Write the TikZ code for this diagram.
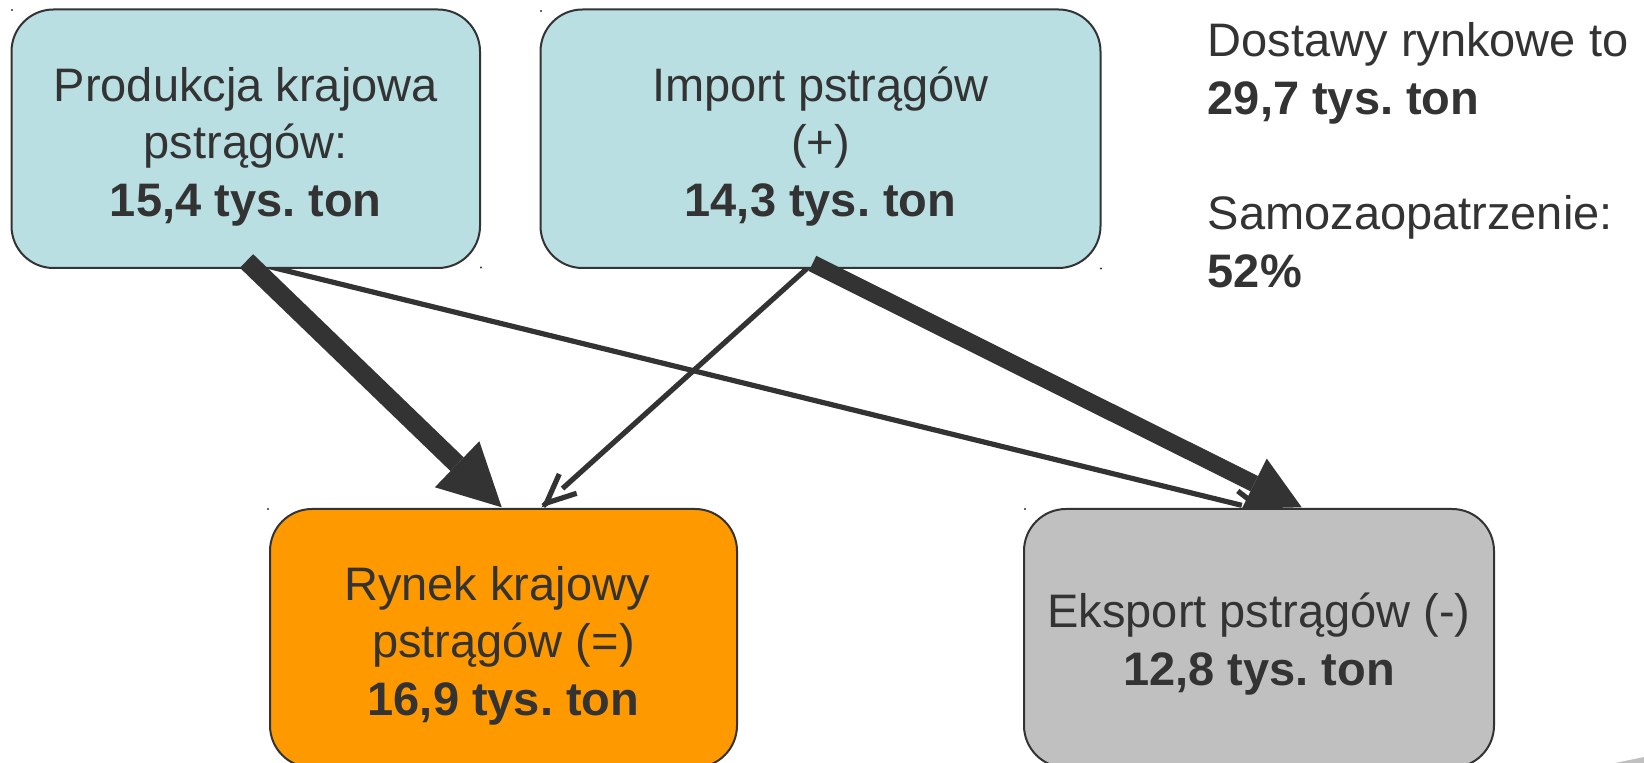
\documentclass[tikz,border=0pt]{standalone}
\usepackage{fontspec}
\setmainfont{Liberation Sans}
\usetikzlibrary{arrows.meta,calc}
\definecolor{txt}{HTML}{333333}
\definecolor{edgec}{HTML}{333333}
\definecolor{bluefill}{RGB}{186,223,227}
\definecolor{orangefill}{HTML}{FF9900}
\definecolor{grayfill}{HTML}{C0C0C0}
\pgfdeclarelayer{bg}
\pgfsetlayers{bg,main}
\frenchspacing
\begin{document}
\frenchspacing
\begin{tikzpicture}[x=0.5pt,y=-0.5pt,
  box/.style={draw=edgec, line width=1pt, rounded corners=21pt, inner sep=0pt, minimum height=129.25pt},
  lbl/.style={text=txt, align=center, inner sep=0pt, font=\fontsize{23.5}{28.75}\selectfont},
  side/.style={text=txt, align=left, inner sep=0pt, anchor=west, font=\fontsize{23.5}{29.25}\selectfont},
  thinline/.style={draw=edgec, line width=2.6pt, line cap=butt},
  thinhead/.style={thinline, -{Straight Barb[length=14.5pt,width=13pt]}},
  thickA/.style={draw=edgec, line width=9.5pt, line cap=butt, -{Triangle[length=31pt,width=32pt,line width=0pt]}},
  thickB/.style={draw=edgec, line width=8.5pt, line cap=butt, -{Triangle[length=26.5pt,width=28pt,line width=0pt]}},
  handle/.style={fill=edgec}
]
\useasboundingbox (0,0) rectangle (1644,763);
\clip (0,0) rectangle (1644,763);

% boxes
\node[box, fill=bluefill, minimum width=234.25pt] (prod) at (245.75,138.75) {};
\node[box, fill=bluefill, minimum width=280pt] (import) at (820.5,138.75) {};
\node[box, fill=orangefill, minimum width=233.5pt] (rynek) at (503.5,638.25) {};
\node[box, fill=grayfill, minimum width=235pt] (eksport) at (1259,638.25) {};

% labels
\node[lbl] (prodt) at (245.75,146.5) {Produkcja krajowa\\pstrągów:\\\textbf{15,4 tys. ton}};
\node[lbl] (importt) at (820.5,146.5) {Import pstrągów\\(+)\\\textbf{14,3 tys. ton}};
\node[lbl] (rynekt) at (503.5,645.6) {Rynek krajowy\hspace*{6.5pt}\\pstrągów (=)\\\textbf{16,9 tys. ton}};
\node[lbl] (eksportt) at (1259,644.1) {Eksport pstrągów (-)\\\textbf{12,8 tys. ton}};
\node[side] (summary) at (1207.4,155) {Dostawy rynkowe to\\\textbf{29,7 tys. ton}\\[28pt]Samozaopatrzenie:\\\textbf{52\%}};

% connector ends
\coordinate (ps) at ($(prod.south)+(0.75,-8)$);
\coordinate (is) at ($(import.south)+(-8,-5.5)$);
\coordinate (rn) at ($(rynek.north)+(-1.8,-0.7)$);
\coordinate (rt) at ($(rynek.north)+(38.2,-0.7)$);
\coordinate (en) at ($(eksport.north)+(42.7,-0.7)$);
\coordinate (et) at ($(eksport.north)+(10,4)$);

% thin connectors (behind the boxes)
\begin{pgfonlayer}{bg}
\draw[thinline, shorten >=14pt] (ps) -- (et);
\draw[thinhead] ($(et)!1pt!(ps)$) -- (et);
\draw[thinline, shorten >=14pt] (is) -- (rt);
\draw[thinhead] ($(rt)!1pt!(is)$) -- (rt);
\end{pgfonlayer}

% thick connectors
\draw[thickA] (ps) -- (rn);
\draw[thickB] (is) -- (en);

% small handles
\fill[handle] (12,10) circle (0.6pt);
\fill[handle] (481,267.5) circle (0.6pt);
\fill[handle] (541,11) circle (0.6pt);
\fill[handle] (1101,268.5) circle (0.6pt);
\fill[handle] (268,509) circle (0.6pt);
\fill[handle] (1025,509) circle (0.6pt);

% partial shape at lower right
\fill[grayfill] (1615,763) -- (1644,757) -- (1644,763) -- cycle;
\end{tikzpicture}
\end{document}
